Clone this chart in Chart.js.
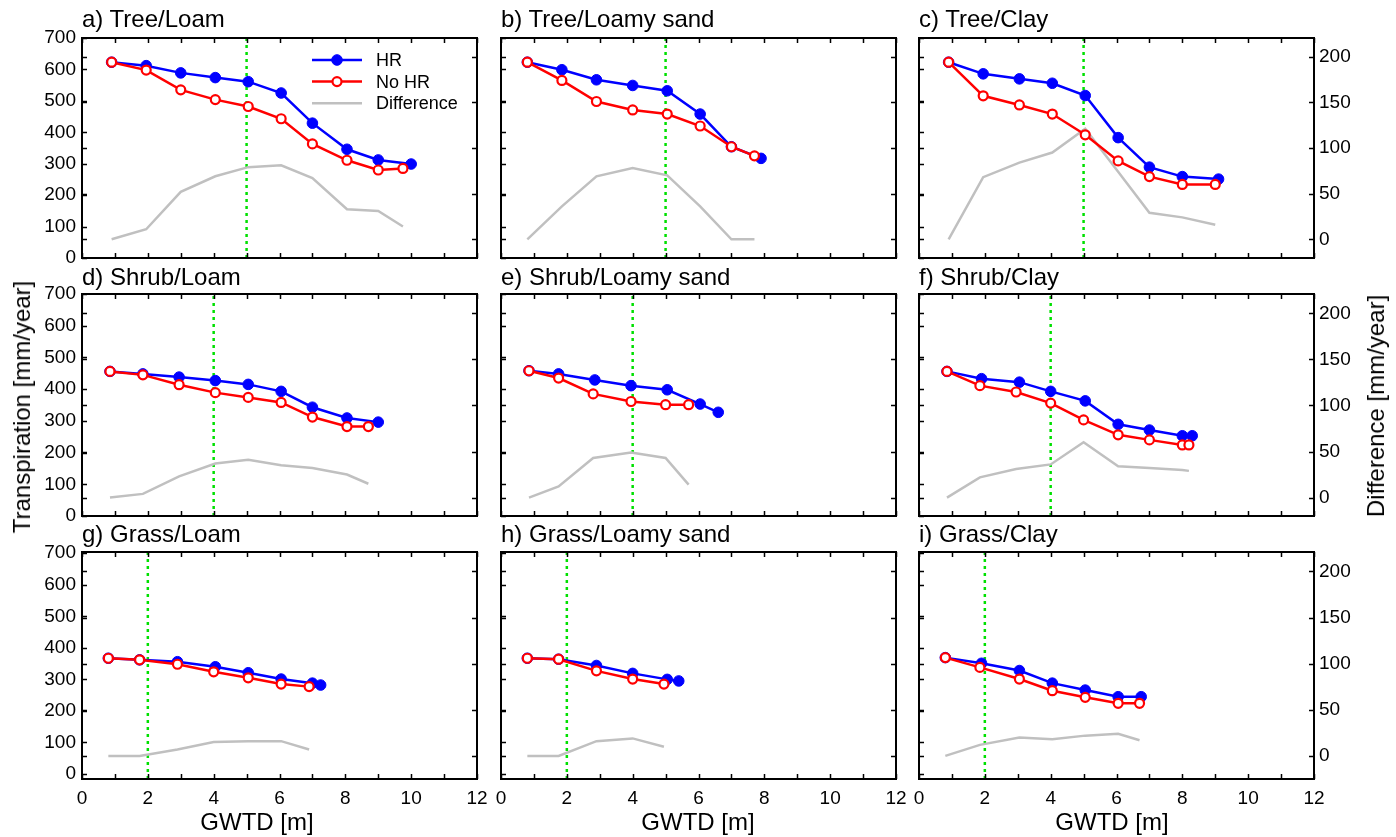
<!DOCTYPE html>
<html>
<head>
<meta charset="utf-8">
<script src="https://cdn.jsdelivr.net/npm/chart.js@4.4.1/dist/chart.umd.min.js"></script>
<style>
  html, body { margin: 0; padding: 0; background: #fff; }
  #fig { position: relative; width: 1396px; height: 837px; overflow: hidden;
         font-family: "Liberation Sans", Arial, sans-serif; color: #000; }
  #fig canvas { position: absolute; }
  .ptitle { position: absolute; font-size: 24px; line-height: 1; white-space: nowrap; }
  .xlab   { position: absolute; font-size: 24px; line-height: 1; white-space: nowrap; transform: translateX(-50%); }
  .ylab   { position: absolute; font-size: 24px; line-height: 1; white-space: nowrap;
            transform: translate(-50%, -50%) rotate(-90deg); }
</style>
</head>
<body>
<div id="fig"></div>
<script>
// ───── DATA ─────
const PANEL_TITLES = ["a) Tree/Loam", "b) Tree/Loamy sand", "c) Tree/Clay",
                      "d) Shrub/Loam", "e) Shrub/Loamy sand", "f) Shrub/Clay",
                      "g) Grass/Loam", "h) Grass/Loamy sand", "i) Grass/Clay"];
const X_LABELS  = [0, 2, 4, 6, 8, 10, 12];
const T_TICKS   = [0, 100, 200, 300, 400, 500, 600, 700];
const D_TICKS   = [0, 50, 100, 150, 200];
const ROOT_LINE = [5, 4, 2];   // dotted green line, GWTD [m], per row (tree, shrub, grass)

// a) Tree/Loam
const gwtdHrA = [0.9, 1.95, 3.0, 4.05, 5.05, 6.05, 7.0, 8.05, 9.0, 10.0];
const hrA     = [623, 612, 589, 574, 561, 525, 429, 346, 312, 299];
const gwtdNoA = [0.9, 1.95, 3.0, 4.05, 5.05, 6.05, 7.0, 8.05, 9.0, 9.75];
const noHrA   = [623, 598, 535, 504, 482, 443, 363, 311, 280, 285];
const diffA   = [0, 11, 52, 69, 79, 81, 67, 33, 31, 14];
// b) Tree/Loamy sand
const gwtdHrB = [0.8, 1.85, 2.9, 4.0, 5.05, 6.05, 7.0, 7.9];
const hrB     = [623, 599, 567, 549, 532, 458, 354, 317];
const gwtdNoB = [0.8, 1.85, 2.9, 4.0, 5.05, 6.05, 7.0, 7.7];
const noHrB   = [623, 565, 498, 471, 458, 420, 354, 325];
const diffB   = [0, 36, 69, 78, 70, 36, 0, 0];
// c) Tree/Clay
const gwtdHrC = [0.9, 1.95, 3.05, 4.05, 5.05, 6.05, 7.0, 8.0, 9.1];
const hrC     = [623, 586, 570, 556, 517, 383, 289, 259, 251];
const gwtdNoC = [0.9, 1.95, 3.05, 4.05, 5.05, 6.05, 7.0, 8.0, 9.0];
const noHrC   = [623, 516, 487, 458, 392, 309, 259, 234, 234];
const diffC   = [0, 68, 84, 95, 121, 74, 29, 24, 16];
// d) Shrub/Loam
const gwtdHrD = [0.85, 1.85, 2.95, 4.05, 5.05, 6.05, 7.0, 8.05, 9.0];
const hrD     = [456, 448, 438, 427, 415, 393, 343, 309, 296];
const gwtdNoD = [0.85, 1.85, 2.95, 4.05, 5.05, 6.05, 7.0, 8.05, 8.7];
const noHrD   = [456, 445, 414, 389, 374, 358, 312, 282, 282];
const diffD   = [0, 4, 23, 37, 41, 35, 32, 25, 15];
// e) Shrub/Loamy sand
const gwtdHrE = [0.85, 1.75, 2.85, 3.95, 5.05, 6.05, 6.6];
const hrE     = [458, 448, 429, 411, 398, 353, 327];
const gwtdNoE = [0.85, 1.75, 2.8, 3.95, 5.0, 5.7];
const noHrE   = [458, 435, 385, 361, 351, 351];
const diffE   = [0, 12, 43, 49, 43, 14];
// f) Shrub/Clay
const gwtdHrF = [0.85, 1.9, 3.05, 4.0, 5.05, 6.05, 7.0, 8.0, 8.3];
const hrF     = [456, 433, 422, 393, 363, 289, 271, 253, 253];
const gwtdNoF = [0.85, 1.85, 2.95, 4.0, 5.0, 6.05, 7.0, 8.0, 8.2];
const noHrF   = [456, 411, 391, 356, 303, 256, 240, 224, 224];
const diffF   = [0, 22, 31, 36, 60, 34, 32, 30, 29];
// g) Grass/Loam
const gwtdHrG = [0.8, 1.75, 2.9, 4.05, 5.05, 6.05, 7.0, 7.25];
const hrG     = [367, 362, 356, 340, 321, 301, 288, 282];
const gwtdNoG = [0.8, 1.75, 2.9, 4.0, 5.05, 6.05, 6.9];
const noHrG   = [367, 362, 348, 324, 305, 285, 277];
const diffG   = [0, 0, 7, 15, 16, 16, 7];
// h) Grass/Loamy sand
const gwtdHrH = [0.8, 1.75, 2.9, 4.0, 5.05, 5.4];
const hrH     = [367, 364, 344, 319, 300, 295];
const gwtdNoH = [0.8, 1.75, 2.9, 4.0, 4.95];
const noHrH   = [367, 364, 327, 301, 285];
const diffH   = [0, 0, 16, 19, 10];
// i) Grass/Clay
const gwtdHrI = [0.8, 1.9, 3.05, 4.05, 5.05, 6.05, 6.75];
const hrI     = [369, 351, 328, 288, 266, 245, 245];
const gwtdNoI = [0.8, 1.85, 3.05, 4.05, 5.05, 6.05, 6.7];
const noHrI   = [369, 338, 301, 264, 243, 224, 224];
const diffI   = [0, 12, 20, 18, 22, 24, 17];

const PANELS = [
    { hrX: gwtdHrA, hr: hrA, noX: gwtdNoA, no: noHrA, diff: diffA },
    { hrX: gwtdHrB, hr: hrB, noX: gwtdNoB, no: noHrB, diff: diffB },
    { hrX: gwtdHrC, hr: hrC, noX: gwtdNoC, no: noHrC, diff: diffC },
    { hrX: gwtdHrD, hr: hrD, noX: gwtdNoD, no: noHrD, diff: diffD },
    { hrX: gwtdHrE, hr: hrE, noX: gwtdNoE, no: noHrE, diff: diffE },
    { hrX: gwtdHrF, hr: hrF, noX: gwtdNoF, no: noHrF, diff: diffF },
    { hrX: gwtdHrG, hr: hrG, noX: gwtdNoG, no: noHrG, diff: diffG },
    { hrX: gwtdHrH, hr: hrH, noX: gwtdNoH, no: noHrH, diff: diffH },
    { hrX: gwtdHrI, hr: hrI, noX: gwtdNoI, no: noHrI, diff: diffI },
];

// ───── LAYOUT / STYLE ─────
const COL_LEFT = [82, 501, 919];
const PLOT_W   = 395;
const ROW_TOP  = [38, 294, 552];
const ROW_H    = [220, 222, 227];
const T_RANGE  = [[0, 700], [0, 700], [-16, 704]];
const D_RANGE  = [[-20.5, 220.5], [-20, 221], [-25, 221]];
const TITLE_TOP = [7, 264.5, 522];

const BLUE = "#0000ff", RED = "#ff0000", GRAY = "#c0c0c0", GREEN = "#00e000";
const FONT = "'Liberation Sans', Arial, sans-serif";
const PAD_L = 50, PAD_R = 56, PAD_T = 14, PAD_B = 34;

const pts = (xs, ys) => xs.map((x, i) => ({ x, y: ys[i] }));

// fixed axis box: no extra room for overhanging labels
function fixBox(size, horiz) {
    return s => {
        if (horiz) s.height = size; else s.width = size;
        s.paddingTop = 0; s.paddingBottom = 0; s.paddingLeft = 0; s.paddingRight = 0;
    };
}

// ticks pointing inwards + full box, like the original figure
const innerTicks = {
    id: "innerTicks",
    afterDraw(chart) {
        const { ctx, chartArea: a, scales } = chart;
        const len = 5;
        ctx.save();
        ctx.strokeStyle = "#000";
        ctx.lineWidth = 1.5;
        ctx.beginPath();
        scales.x.ticks.forEach(t => {
            const px = Math.round(scales.x.getPixelForValue(t.value)) + 0.5;
            ctx.moveTo(px, a.bottom); ctx.lineTo(px, a.bottom - len);
            ctx.moveTo(px, a.top);    ctx.lineTo(px, a.top + len);
        });
        scales.y.ticks.forEach(t => {
            const py = Math.round(scales.y.getPixelForValue(t.value)) + 0.5;
            ctx.moveTo(a.left, py); ctx.lineTo(a.left + len, py);
        });
        scales.y2.ticks.forEach(t => {
            const py = Math.round(scales.y2.getPixelForValue(t.value)) + 0.5;
            ctx.moveTo(a.right, py); ctx.lineTo(a.right - len, py);
            ctx.moveTo(a.left, py);  ctx.lineTo(a.left + len, py);
        });
        ctx.stroke();
        ctx.lineWidth = 2;
        ctx.strokeRect(a.left, a.top, a.width, a.height);
        ctx.restore();
    }
};

// legend inside panel a
const panelLegend = {
    id: "panelLegend",
    afterDraw(chart, args, opts) {
        if (!opts.show) return;
        const { ctx, chartArea: a } = chart;
        const order = ["HR", "No HR", "Difference"];
        ctx.save();
        ctx.font = "18px " + FONT;
        ctx.textBaseline = "middle";
        ctx.fillStyle = "#000";
        order.forEach((lbl, i) => {
            const ds = chart.data.datasets.find(d => d.label === lbl);
            const y  = a.top + 22 + i * 21.6;
            const x0 = a.left + 230, x1 = a.left + 280, xm = (x0 + x1) / 2;
            ctx.strokeStyle = ds.borderColor;
            ctx.lineWidth = ds.borderWidth;
            ctx.beginPath(); ctx.moveTo(x0, y); ctx.lineTo(x1, y); ctx.stroke();
            if (ds.pointRadius > 0) {
                ctx.beginPath();
                ctx.arc(xm, y, ds.pointRadius, 0, Math.PI * 2);
                ctx.fillStyle = ds.pointBackgroundColor;
                ctx.fill();
                ctx.lineWidth = ds.pointBorderWidth;
                ctx.strokeStyle = ds.pointBorderColor;
                ctx.stroke();
            }
            ctx.fillStyle = "#000";
            ctx.fillText(lbl, a.left + 294, y + 1);
        });
        ctx.restore();
    }
};

Chart.register(innerTicks, panelLegend);

const fig = document.getElementById("fig");

function addText(cls, txt, left, top) {
    const d = document.createElement("div");
    d.className = cls;
    d.textContent = txt;
    d.style.left = left + "px";
    d.style.top  = top + "px";
    fig.appendChild(d);
}

PANELS.forEach((p, i) => {
    const row = Math.floor(i / 3), col = i % 3;
    const cv  = document.createElement("canvas");
    cv.width  = PLOT_W + PAD_L + PAD_R;
    cv.height = ROW_H[row] + PAD_T + PAD_B;
    cv.style.left = (COL_LEFT[col] - PAD_L) + "px";
    cv.style.top  = (ROW_TOP[row] - PAD_T) + "px";
    fig.appendChild(cv);

    addText("ptitle", PANEL_TITLES[i], COL_LEFT[col], TITLE_TOP[row]);

    const [tMin, tMax] = T_RANGE[row];
    const [dMin, dMax] = D_RANGE[row];
    const tickFont = { family: FONT, size: 19 };

    new Chart(cv, {
        type: "line",
        data: {
            datasets: [
                { label: "No HR", data: pts(p.noX, p.no), yAxisID: "y",
                  borderColor: RED, borderWidth: 2.5, tension: 0,
                  pointRadius: 4.5, pointBorderWidth: 2.2,
                  pointBackgroundColor: "#fff", pointBorderColor: RED, order: 1 },
                { label: "HR", data: pts(p.hrX, p.hr), yAxisID: "y",
                  borderColor: BLUE, borderWidth: 2.5, tension: 0,
                  pointRadius: 5.3, pointBorderWidth: 1,
                  pointBackgroundColor: BLUE, pointBorderColor: BLUE, order: 2 },
                { label: "Difference", data: pts(p.noX, p.diff), yAxisID: "y2",
                  borderColor: GRAY, borderWidth: 2.5, tension: 0, pointRadius: 0, order: 3 },
                { label: "root", data: [{ x: ROOT_LINE[row], y: tMin }, { x: ROOT_LINE[row], y: tMax }],
                  yAxisID: "y", borderColor: GREEN, borderWidth: 2.5, borderDash: [3, 4],
                  pointRadius: 0, order: 4 },
            ]
        },
        options: {
            responsive: false, animation: false, devicePixelRatio: 1,
            layout: { padding: { top: PAD_T, left: 0, right: 0, bottom: 0 } },
            plugins: {
                legend: { display: false }, tooltip: { enabled: false },
                panelLegend: { show: i === 0 }
            },
            scales: {
                x: {
                    type: "linear", min: 0, max: 12,
                    afterFit: fixBox(PAD_B, true),
                    grid: { display: false, drawTicks: false }, border: { display: false },
                    ticks: { display: row === 2, stepSize: 1, autoSkip: false, maxRotation: 0,
                             padding: 8, font: tickFont, color: "#000",
                             callback: v => X_LABELS.includes(v) ? String(v) : "" }
                },
                y: {
                    position: "left", min: tMin, max: tMax,
                    afterFit: fixBox(PAD_L, false),
                    afterBuildTicks: s => { s.ticks = T_TICKS.map(v => ({ value: v })); },
                    grid: { display: false, drawTicks: false }, border: { display: false },
                    ticks: { display: col === 0, padding: 6, font: tickFont, color: "#000" }
                },
                y2: {
                    position: "right", min: dMin, max: dMax,
                    afterFit: fixBox(PAD_R, false),
                    afterBuildTicks: s => { s.ticks = D_TICKS.map(v => ({ value: v })); },
                    grid: { display: false, drawTicks: false }, border: { display: false },
                    ticks: { display: col === 2, padding: 5, font: tickFont, color: "#000" }
                }
            }
        }
    });
});

// axis titles
addText("xlab", "GWTD [m]", 257, 810);
addText("xlab", "GWTD [m]", 698, 810);
addText("xlab", "GWTD [m]", 1112, 810);
addText("ylab", "Transpiration [mm/year]", 22, 407);
addText("ylab", "Difference [mm/year]", 1376, 406);
</script>
</body>
</html>
